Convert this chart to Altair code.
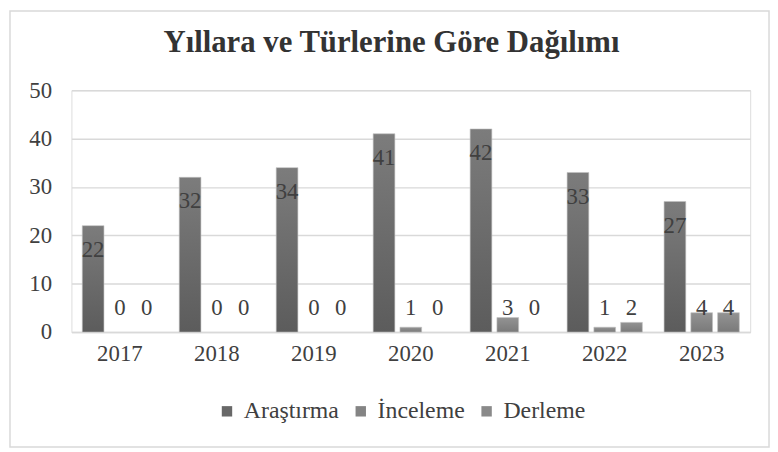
import altair as alt
import pandas as pd

years = ["2017", "2018", "2019", "2020", "2021", "2022", "2023"]
series = ["Araştırma", "İnceleme", "Derleme"]
arastirma = [22, 32, 34, 41, 42, 33, 27]
inceleme = [0, 0, 0, 1, 3, 1, 4]
derleme = [0, 0, 0, 0, 0, 2, 4]
title_text = "Yıllara ve Türlerine Göre Dağılımı"

rows = []
for i, y in enumerate(years):
    for s, vals in zip(series, [arastirma, inceleme, derleme]):
        rows.append({"year": y, "type": s, "value": vals[i]})
df = pd.DataFrame(rows)

FONT = "Liberation Serif"
TXT = "#404040"

grad_dark = {"gradient": "linear", "x1": 0, "y1": 0, "x2": 0, "y2": 1,
             "stops": [{"offset": 0, "color": "#7c7c7c"}, {"offset": 1, "color": "#5c5c5c"}]}
grad_light = {"gradient": "linear", "x1": 0, "y1": 0, "x2": 0, "y2": 1,
              "stops": [{"offset": 0, "color": "#939393"}, {"offset": 1, "color": "#7a7a7a"}]}

x_enc = alt.X("year:N", sort=years, title=None,
              scale=alt.Scale(paddingInner=0.224, paddingOuter=0.112),
              axis=alt.Axis(labelAngle=0, labelFont=FONT, labelFontSize=23, labelColor=TXT,
                            ticks=False, domainColor="#d9d9d9", domainWidth=1.5, labelPadding=11))
xoff = alt.XOffset("type:N", sort=series, scale=alt.Scale(paddingInner=0.19, paddingOuter=0))
y_scale = alt.Scale(domain=[0, 50])

base = alt.Chart(df)

bars = base.transform_filter("datum.value > 0").mark_bar(stroke="#c0c0c0", strokeWidth=0.6).encode(
    x=x_enc,
    xOffset=xoff,
    y=alt.Y("value:Q", scale=y_scale, title=None,
            axis=alt.Axis(values=[0, 10, 20, 30, 40, 50], labelFont=FONT, labelFontSize=23,
                          labelColor=TXT, ticks=False, domain=False, gridColor="#d9d9d9",
                          gridWidth=1.5, labelPadding=20)),
    fill=alt.condition("datum.type === 'Araştırma'", alt.value(grad_dark), alt.value(grad_light)),
)

labels = base.transform_calculate(
    labelpos="max(datum.value - 5, 5)"
).mark_text(font=FONT, fontSize=23, color=TXT, baseline="middle").encode(
    x=alt.X("year:N", sort=years),
    xOffset=xoff,
    y=alt.Y("labelpos:Q", scale=y_scale),
    text=alt.Text("value:Q"),
)

legend_layer = base.transform_filter("false").mark_square(opacity=1).encode(
    color=alt.Color("type:N", scale=alt.Scale(domain=series, range=["#686868", "#848484", "#8a8a8a"]),
                    legend=alt.Legend(title=None, orient="none", legendX=145, legendY=312,
                                      direction="horizontal", symbolType="square", symbolSize=110,
                                      symbolOpacity=1,
                                      labelFont=FONT, labelFontSize=24, labelColor=TXT,
                                      labelOffset=5, columnPadding=10, symbolStrokeWidth=0))
)

frame = alt.Chart(alt.Data(values=[{}])).mark_rect(
    fillOpacity=0, stroke="#d9d9d9", strokeWidth=1.5
).encode(
    x=alt.value(-62), x2=alt.value(704), y=alt.value(-80), y2=alt.value(360)
)

title = alt.Chart(alt.Data(values=[{"t": title_text}])).mark_text(
    font=FONT, fontSize=31, fontWeight="bold", color="#333333", align="center", baseline="middle"
).encode(
    x=alt.value(323), y=alt.value(-48), text="t:N"
)

chart = alt.layer(frame, bars, labels, legend_layer, title).properties(
    width=685,
    height=244,
    autosize=alt.AutoSizeParams(type="none"),
    padding={"left": 64, "top": 81, "right": 20, "bottom": 117},
).configure_view(stroke=None).configure(background="white")

chart.save("out.html", embed_options={"renderer": "svg", "actions": False})
